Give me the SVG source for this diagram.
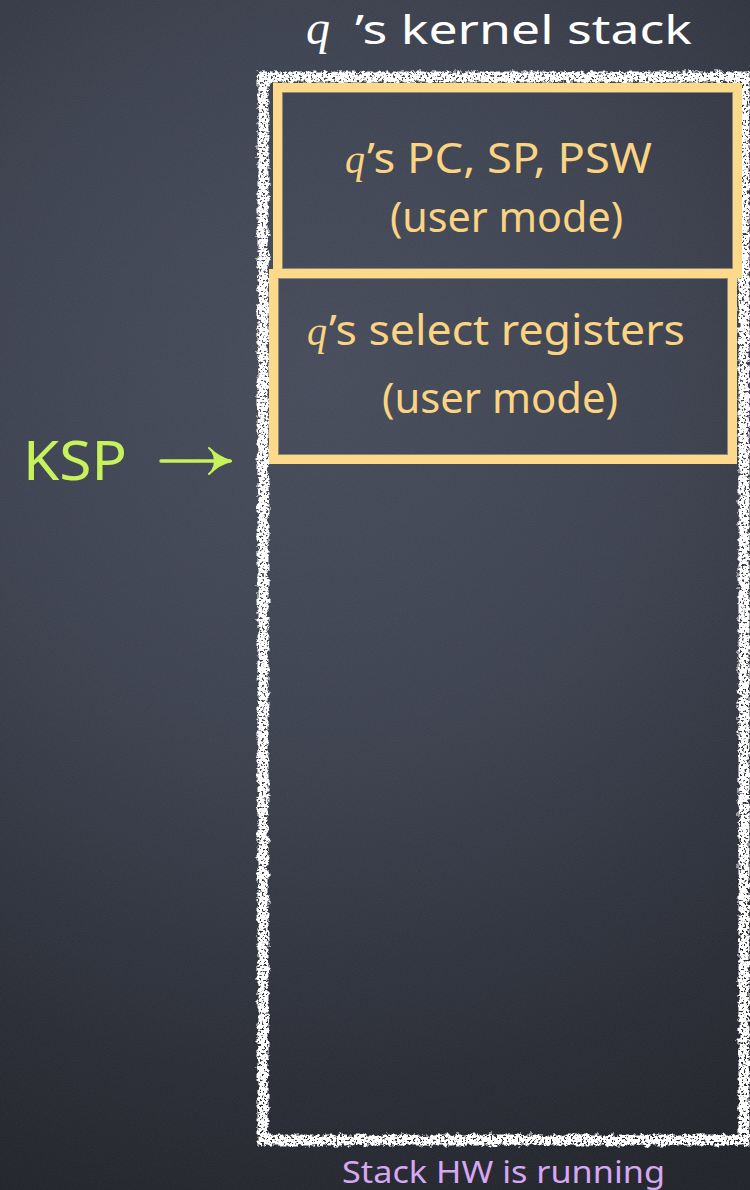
<svg xmlns="http://www.w3.org/2000/svg" width="750" height="1190" viewBox="0 0 750 1190">
  <defs>
    <radialGradient id="board" cx="320" cy="380" r="880" gradientUnits="userSpaceOnUse">
      <stop offset="0" stop-color="#444a59"/>
      <stop offset="0.4" stop-color="#3b404e"/>
      <stop offset="0.8" stop-color="#272a33"/>
      <stop offset="1" stop-color="#1f2128"/>
    </radialGradient>
    <!-- fine grain over the slate -->
    <filter id="grain" x="0" y="0" width="100%" height="100%">
      <feTurbulence type="fractalNoise" baseFrequency="0.8" numOctaves="2" seed="3" result="n"/>
      <feColorMatrix in="n" type="matrix" values="0 0 0 0 1  0 0 0 0 1  0 0 0 0 1  0 0 0 0.06 0"/>
    </filter>
    <!-- rough chalk stroke -->
    <filter id="chalk" x="-5%" y="-2%" width="110%" height="104%">
      <feTurbulence type="fractalNoise" baseFrequency="0.18" numOctaves="3" seed="7" result="warp"/>
      <feDisplacementMap in="SourceGraphic" in2="warp" scale="7" xChannelSelector="R" yChannelSelector="G" result="rough"/>
      <feTurbulence type="fractalNoise" baseFrequency="0.45" numOctaves="2" seed="11" result="spots"/>
      <feColorMatrix in="spots" type="matrix" values="0 0 0 0 0  0 0 0 0 0  0 0 0 0 0  0 0 0 -11 7.4" result="mask"/>
      <feComposite in="rough" in2="mask" operator="in"/>
    </filter>
    <marker id="head" viewBox="0 0 24 28" refX="22" refY="14" markerWidth="24" markerHeight="28" markerUnits="userSpaceOnUse" orient="auto">
      <path d="M1,1 Q11,11 23,14 Q11,17 1,27 L4,24 Q10,14 4,4 Z" fill="#c8f25c" stroke="#c8f25c" stroke-width="2" stroke-linejoin="round"/>
    </marker>
    <style>
      .slot { fill: none; stroke: #fdd98c; stroke-width: 9; }
      .slotEdge { fill: none; stroke: #8c8777; stroke-width: 1; }
      .yel { fill: #fad383; font-family: "Noto Sans", "DejaVu Sans", sans-serif; font-size: 41px; }
      .qi { font-family: "Liberation Serif", serif; font-style: italic; }
      .title { fill: #ffffff; font-family: "Noto Sans", "DejaVu Sans", sans-serif; font-size: 40px; }
      .ksp { fill: #c8f25c; font-family: "Noto Sans", "DejaVu Sans", sans-serif; font-size: 55px; }
      .note { fill: #d6a7f3; font-family: "Noto Sans", "DejaVu Sans", sans-serif; font-size: 31px; }
      .conn { fill: none; stroke: #c8f25c; stroke-width: 3.5; stroke-linecap: round; }
    </style>
  </defs>

  <!-- slate background -->
  <rect width="750" height="1190" fill="url(#board)"/>
  <rect width="750" height="1190" filter="url(#grain)"/>

  <!-- title -->
  <g id="title">
    <text x="306" y="44" class="title"><tspan class="qi" font-size="48">q</tspan></text>
    <text x="355" y="44" class="title" textLength="337" lengthAdjust="spacingAndGlyphs">’s kernel stack</text>
  </g>

  <!-- kernel stack outline -->
  <g id="stack">
    <rect x="263" y="77" width="481" height="1063" fill="none" stroke="#ffffff" stroke-width="11" filter="url(#chalk)"/>
  </g>

  <!-- saved user-mode state -->
  <g id="slot-regs">
    <rect x="273.5" y="273.5" width="459" height="186" class="slot"/>
    <rect x="278.5" y="278.5" width="449" height="176" class="slotEdge"/>
    <text y="345" class="yel"><tspan x="307" class="qi" font-size="40">q</tspan></text>
    <text x="329" y="345" class="yel" textLength="356" lengthAdjust="spacingAndGlyphs">’s select registers</text>
    <text x="382" y="413" class="yel" textLength="236" lengthAdjust="spacingAndGlyphs">(user mode)</text>
  </g>

  <g id="slot-pc">
    <rect x="277.5" y="87.5" width="460" height="186" class="slot"/>
    <rect x="282.5" y="92.5" width="450" height="176" class="slotEdge"/>
    <text y="173" class="yel"><tspan x="345" class="qi" font-size="40">q</tspan></text>
    <text x="367" y="173" class="yel" textLength="285" lengthAdjust="spacingAndGlyphs">’s PC, SP, PSW</text>
    <text x="390" y="232" class="yel" textLength="233" lengthAdjust="spacingAndGlyphs">(user mode)</text>
  </g>

  <!-- stack pointer label -->
  <g id="ksp">
    <text x="23" y="480" class="ksp" textLength="104" lengthAdjust="spacingAndGlyphs">KSP</text>
  </g>

  <g id="connectors">
    <path d="M161,461 L230,461" class="conn" marker-end="url(#head)"/>
  </g>

  <g id="caption">
    <text x="342" y="1183" class="note" textLength="323" lengthAdjust="spacingAndGlyphs">Stack HW is running</text>
  </g>
</svg>
